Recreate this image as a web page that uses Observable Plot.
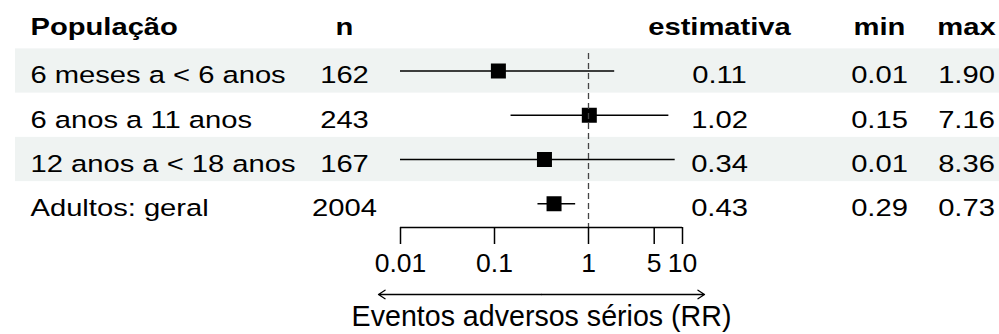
<!DOCTYPE html>
<html>
<head>
<meta charset="utf-8">
<script src="https://cdn.jsdelivr.net/npm/d3@7"></script>
<script src="https://cdn.jsdelivr.net/npm/@observablehq/plot@0.6"></script>
<style>
  html, body { margin: 0; padding: 0; background: #fff; }
  #chart svg { display: block; }
</style>
</head>
<body>
<div id="chart"></div>
<script>
// Forest plot: serious adverse events (RR) by population group
const population = ["6 meses a < 6 anos", "6 anos a 11 anos", "12 anos a < 18 anos", "Adultos: geral"];
const sampleSize = [162, 243, 167, 2004];
const estimate = [0.11, 1.02, 0.34, 0.43];
const lower = [0.01, 0.15, 0.01, 0.29];
const upper = [1.90, 7.16, 8.36, 0.73];
const headers = ["População", "n", "estimativa", "min", "max"];
const xTicks = [0.01, 0.1, 1, 5, 10];
const xTickLabels = ["0.01", "0.1", "1", "5", "10"];
const xLabel = "Eventos adversos sérios (RR)";

const rows = population.map((p, i) => ({
  pop: p, idx: i + 1, n: sampleSize[i], est: estimate[i], lo: lower[i], hi: upper[i]
}));
const f2 = (v) => v.toFixed(2);

const W = 999, H = 334;
const FS = 24.3;          // table font size
const SX = 1.2;           // horizontal stretch of table text
const ML = 15;            // left edge of the table
const xDomain = [0.01, 10];
const xMid = Math.sqrt(xDomain[0] * xDomain[1]);

// table columns: header, cell values, horizontal anchor position, alignment
const columns = [
  {head: headers[0], values: population, px: 30, anchor: "start"},
  {head: headers[1], values: sampleSize.map(String), px: 344, anchor: "middle"},
  {head: headers[2], values: estimate.map(f2), px: 719, anchor: "middle"},
  {head: headers[3], values: lower.map(f2), px: 879, anchor: "middle"},
  {head: headers[4], values: upper.map(f2), px: 966, anchor: "middle"}
];

const tableMarks = columns.flatMap((c) => [
  Plot.text([c.head], {
    y: () => 0, text: (d) => d, frameAnchor: "left", dx: c.px - ML, dy: 0.3,
    textAnchor: c.anchor, fontSize: FS, fontWeight: "bold", fill: "black"
  }),
  Plot.text(c.values, {
    y: (d, i) => i + 1, text: (d) => d, frameAnchor: "left", dx: c.px - ML, dy: 4.5,
    textAnchor: c.anchor, fontSize: FS, fill: "black"
  })
]);

const yTop = 4.125, yBottom = 225.375;

const chart = Plot.plot({
  width: W,
  height: H,
  marginLeft: ML,
  marginRight: 0,
  marginTop: 4,
  marginBottom: 107,
  style: {background: "white", color: "black", fontFamily: "'Liberation Sans', Arial, sans-serif", overflow: "visible"},
  x: {type: "log", domain: xDomain, range: [400, 682]},
  y: {domain: [-0.5, 4.5], range: [yTop, yBottom], axis: null},
  marks: [
    // alternating row bands
    Plot.rect(rows.filter((d, i) => i % 2 === 0), {
      y1: (d) => d.idx - 0.5, y2: (d) => d.idx + 0.5, fill: "#eff3f2"
    }),
    ...tableMarks,
    // confidence intervals
    Plot.ruleY(rows, {y: "idx", x1: "lo", x2: "hi", stroke: "black", strokeWidth: 1.6}),
    // point estimates
    Plot.dot(rows, {x: "est", y: "idx", symbol: "square", r: 15 / Math.sqrt(Math.PI), fill: "black"}),
    // reference line at RR = 1
    Plot.ruleX([1], {
      y1: () => 0.5, y2: () => 4.5, insetTop: 4.5, insetBottom: -1.6,
      stroke: "#444", strokeWidth: 1.3, strokeDasharray: "6,4"
    }),
    // x axis: baseline, ticks and tick labels
    Plot.ruleY([4.5], {x1: xDomain[0], x2: xDomain[1], dy: 1.6, stroke: "black", strokeWidth: 1.5}),
    Plot.axisX({ticks: xTicks, tickSize: 17, tickFormat: () => "", strokeWidth: 1.5, label: null}),
    Plot.text(xTicks, {
      x: (d) => d, text: (d, i) => xTickLabels[i], frameAnchor: "bottom", lineAnchor: "middle", dy: 36,
      fontSize: 26.5, fill: "black"
    }),
    // double-headed arrow under the axis
    Plot.arrow([xDomain[0], xDomain[1]], {
      x1: () => xMid, x2: (d) => d, y1: () => 4.5, y2: () => 4.5, dy: 68.6,
      insetEnd: -22, headLength: 9, headAngle: 66, stroke: "black", strokeWidth: 1.3
    }),
    Plot.text([xLabel], {x: () => xMid, text: (d) => d, frameAnchor: "bottom", dy: 98, fontSize: 28.6, fill: "black"})
  ]
});

// widen the table lettering (table text groups carry the table font size)
chart.querySelectorAll(`g[font-size="${FS}"] text`).forEach((t) => {
  const tr = t.getAttribute("transform") || "";
  t.setAttribute("transform", `${tr} scale(${SX},1)`);
});

document.getElementById("chart").appendChild(chart);
</script>
</body>
</html>
